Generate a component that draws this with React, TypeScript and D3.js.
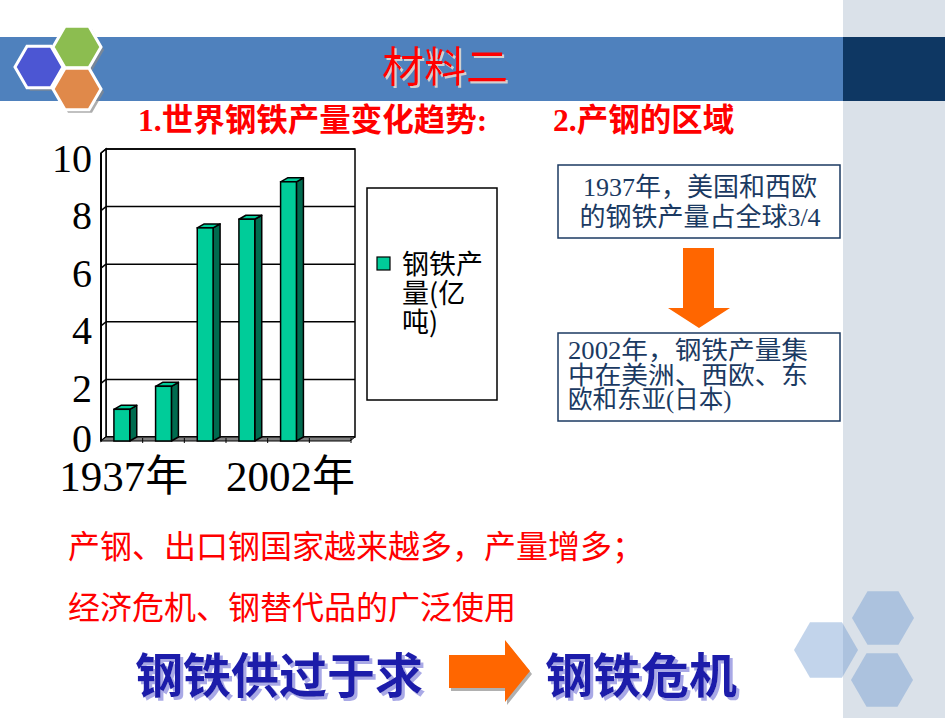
import React, { useEffect, useRef } from 'react'
import * as d3 from 'd3'

// chart values (亿吨)
const categoryLabels = ['1937年', '', '', '', '2002年', '']
const steelOutput = [1.1, 1.9, 7.4, 7.7, 9.0]
const yTicks = [0, 2, 4, 6, 8, 10]
const legendLines = ['钢铁产', '量(亿', '吨)']

// slide texts
const titleText = '材料二'
const subTitles = ['1.世界钢铁产量变化趋势:', '2.产钢的区域']
const box1Lines = ['1937年，美国和西欧', '的钢铁产量占全球3/4']
const box2Lines = ['2002年，钢铁产量集', '中在美洲、西欧、东', '欧和东亚(日本)']
const causeLines = ['产钢、出口钢国家越来越多，产量增多；', '经济危机、钢替代品的广泛使用']
const bottomLeft = '钢铁供过于求'
const bottomRight = '钢铁危机'

const W = 945
const H = 718
const SERIF = "'Liberation Serif', 'Noto Sans CJK SC', serif"
const SANS = "'Noto Sans CJK SC', 'Noto Sans', sans-serif"

const hexPoints = (cx: number, cy: number, r: number) =>
  d3.range(6).map(k => {
    const a = (Math.PI / 3) * k
    return [cx + r * Math.cos(a), cy + r * Math.sin(a)].join(',')
  }).join(' ')

const pts = (arr: number[][]) => arr.map(p => p.join(',')).join(' ')

export default function App() {
  const svgRef = useRef<SVGSVGElement>(null)

  useEffect(() => {
    drawSlide()
  }, [])

  const drawSlide = () => {
    const svg = d3.select(svgRef.current)
    svg.selectAll('*').remove()

    // shadows for the title and the conclusion line
    const defs = svg.append('defs')
    const addShadow = (id: string, dx: number, dy: number, color: string) => {
      defs.append('filter').attr('id', id).attr('x', '-10%').attr('y', '-10%').attr('width', '130%').attr('height', '140%')
        .append('feDropShadow').attr('dx', dx).attr('dy', dy).attr('stdDeviation', 0.3)
        .attr('flood-color', color).attr('flood-opacity', 1)
    }
    addShadow('titleShadow', 2, 2, '#d0d0d0')
    addShadow('blueShadow', 3, 3, '#a9a9e6')

    svg.append('rect').attr('width', W).attr('height', H).attr('fill', '#ffffff')

    // right side panel + header band
    svg.append('rect').attr('x', 843).attr('y', 0).attr('width', W - 843).attr('height', H).attr('fill', '#dae1e9')
    svg.append('rect').attr('x', 0).attr('y', 37).attr('width', 843).attr('height', 64).attr('fill', '#4f81bd')
    svg.append('rect').attr('x', 843).attr('y', 37).attr('width', W - 843).attr('height', 64).attr('fill', '#0e3763')

    // header hexagons
    const hexes = [
      { cx: 39, cy: 67, fill: '#4c56d3' },
      { cx: 77, cy: 47, fill: '#8cbd50' },
      { cx: 77, cy: 89, fill: '#e0894a' },
    ]
    hexes.forEach(h => {
      svg.append('polygon').attr('points', hexPoints(h.cx + 3, h.cy + 3, 24)).attr('fill', '#8a8a8a').attr('opacity', 0.7)
      svg.append('polygon').attr('points', hexPoints(h.cx, h.cy, 24))
        .attr('fill', h.fill).attr('stroke', '#ffffff').attr('stroke-width', 3)
    })

    // bottom-right hexagons
    ;[[826, 650, 32], [883, 618, 31], [882, 680, 31]].forEach(([cx, cy, r]) => {
      svg.append('polygon').attr('points', hexPoints(cx, cy, r)).attr('fill', '#6693cd').attr('opacity', 0.4)
    })

    // title
    svg.append('text').attr('x', 445).attr('y', 82).attr('text-anchor', 'middle')
      .attr('font-family', SERIF).attr('font-size', 42).attr('fill', '#ff0000')
      .attr('filter', 'url(#titleShadow)').text(titleText)

    // subtitles
    ;[[138, subTitles[0]], [553, subTitles[1]]].forEach(([xx, t]) => {
      svg.append('text').attr('x', xx as number).attr('y', 131)
        .attr('font-family', SERIF).attr('font-size', 31.5).attr('font-weight', 'bold')
        .attr('fill', '#ff0000').text(t as string)
    })

    // ---- bar chart (pseudo 3D) ----
    const x = d3.scaleBand<number>().domain(d3.range(categoryLabels.length))
      .range([101, 351]).paddingInner(0.62).paddingOuter(0.31)
    const y = d3.scaleLinear().domain([0, 10]).range([437, 149])
    const wdx = 5
    const wdy = 4
    const y0 = y(0)
    const g = svg.append('g')

    g.append('rect').attr('x', 101 + wdx).attr('y', y(10)).attr('width', 249).attr('height', y0 - y(10))
      .attr('fill', '#ffffff').attr('stroke', '#000').attr('stroke-width', 1.5)
    g.append('polygon')
      .attr('points', pts([[101, y(10) + wdy], [101 + wdx, y(10)], [101 + wdx, y0], [101, y0 + wdy]]))
      .attr('fill', '#ffffff').attr('stroke', '#000').attr('stroke-width', 1.5)

    yTicks.forEach(t => {
      g.append('line').attr('x1', 101 + wdx).attr('x2', 355).attr('y1', y(t)).attr('y2', y(t))
        .attr('stroke', '#000').attr('stroke-width', 1.5)
      g.append('line').attr('x1', 101).attr('x2', 101 + wdx).attr('y1', y(t) + wdy).attr('y2', y(t))
        .attr('stroke', '#000').attr('stroke-width', 1.5)
      g.append('text').attr('x', 92).attr('y', y(t) + (t === 0 ? 1 : 9)).attr('text-anchor', 'end')
        .attr('dominant-baseline', 'central').attr('font-family', SERIF).attr('font-size', 40)
        .attr('fill', '#000').text(t)
    })

    // floor
    g.append('polygon')
      .attr('points', pts([[101, y0 + wdy], [101 + wdx, y0], [355, y0], [350, y0 + wdy]]))
      .attr('fill', '#808080').attr('stroke', '#000').attr('stroke-width', 1)
    const step = x.step()
    d3.range(1, categoryLabels.length + 1).forEach(k => {
      const xx = 101 + step * k
      g.append('line').attr('x1', xx).attr('x2', xx).attr('y1', y0 + 1).attr('y2', y0 + wdy + 2)
        .attr('stroke', '#000').attr('stroke-width', 1)
    })
    g.append('line').attr('x1', 101).attr('x2', 101).attr('y1', y(10) + wdy).attr('y2', y0 + wdy)
      .attr('stroke', '#000').attr('stroke-width', 2)

    // bars
    const bw = x.bandwidth()
    const bdx = 7
    const bdy = 4
    steelOutput.forEach((v, i) => {
      const x0 = x(i) as number
      const yf = y(v) + wdy
      const yb = y0 + wdy
      g.append('polygon')
        .attr('points', pts([[x0 + bw, yf], [x0 + bw + bdx, yf - bdy], [x0 + bw + bdx, yb - bdy], [x0 + bw, yb]]))
        .attr('fill', '#006b4f').attr('stroke', '#000').attr('stroke-width', 1.5).attr('stroke-linejoin', 'round')
      g.append('polygon')
        .attr('points', pts([[x0, yf], [x0 + bdx, yf - bdy], [x0 + bw + bdx, yf - bdy], [x0 + bw, yf]]))
        .attr('fill', '#00cc99').attr('stroke', '#000').attr('stroke-width', 1.5).attr('stroke-linejoin', 'round')
      g.append('rect').attr('x', x0).attr('y', yf).attr('width', bw).attr('height', yb - yf)
        .attr('fill', '#00cc99').attr('stroke', '#000').attr('stroke-width', 1.5)
    })

    categoryLabels.forEach((lab, i) => {
      if (!lab) return
      g.append('text').attr('x', (x(i) as number) + bw / 2 + 2).attr('y', 491)
        .attr('text-anchor', 'middle').attr('font-family', SERIF).attr('font-size', 43)
        .attr('fill', '#000').text(lab)
    })

    // legend (one text block, wrapped like the original)
    g.append('rect').attr('x', 367).attr('y', 188).attr('width', 130).attr('height', 212)
      .attr('fill', '#ffffff').attr('stroke', '#000').attr('stroke-width', 1.5)
    g.append('rect').attr('x', 377).attr('y', 257).attr('width', 13).attr('height', 13)
      .attr('fill', '#00cc99').attr('stroke', '#000').attr('stroke-width', 1.2)
    const legText = g.append('text').attr('x', 402).attr('y', 274).attr('font-family', SANS)
      .attr('font-size', 27).attr('fill', '#000')
    legendLines.forEach((l, i) => {
      legText.append('tspan').attr('x', 402).attr('dy', i === 0 ? 0 : 29).text(l)
    })

    // region boxes
    const navy = '#1b3a62'
    svg.append('rect').attr('x', 558).attr('y', 165).attr('width', 282).attr('height', 73)
      .attr('fill', '#fff').attr('stroke', navy).attr('stroke-width', 1.5)
    box1Lines.forEach((l, i) => {
      svg.append('text').attr('x', 700).attr('y', 196 + i * 30).attr('text-anchor', 'middle')
        .attr('font-family', SERIF).attr('font-size', 26).attr('fill', navy).text(l)
    })
    svg.append('polygon')
      .attr('points', '683,248 714,248 714,308 730,308 699,328 668,308 683,308')
      .attr('fill', '#ff6600')
    svg.append('rect').attr('x', 558).attr('y', 333).attr('width', 282).attr('height', 88)
      .attr('fill', '#fff').attr('stroke', navy).attr('stroke-width', 1.5)
    box2Lines.forEach((l, i) => {
      const t = svg.append('text').attr('x', 568).attr('y', 359 + i * 24.5)
        .attr('font-family', SERIF).attr('font-size', 24.5).attr('fill', navy).text(l)
      if (i < 2) t.attr('textLength', 240).attr('lengthAdjust', 'spacingAndGlyphs')
    })

    // causes
    causeLines.forEach((l, i) => {
      svg.append('text').attr('x', 68).attr('y', 558 + i * 61)
        .attr('font-family', SERIF).attr('font-size', 32).attr('fill', '#ff0000').text(l)
    })

    // conclusion
    ;[[135, bottomLeft], [545, bottomRight]].forEach(([xx, t]) => {
      svg.append('text').attr('x', xx as number).attr('y', 693)
        .attr('font-family', SANS).attr('font-size', 48).attr('font-weight', 'bold')
        .attr('fill', '#1c1caa').attr('filter', 'url(#blueShadow)').text(t as string)
    })
    svg.append('polygon')
      .attr('points', '451,658 507,658 507,643 532,674 507,705 507,691 451,691')
      .attr('fill', '#b0b0b0')
    svg.append('polygon')
      .attr('points', '449,655 505,655 505,640 530,671 505,702 505,688 449,688')
      .attr('fill', '#ff6600')
  }

  return (
    <div>
      <svg ref={svgRef} width={W} height={H} style={{ position: 'absolute', left: 0, top: 0 }}></svg>
    </div>
  )
}
